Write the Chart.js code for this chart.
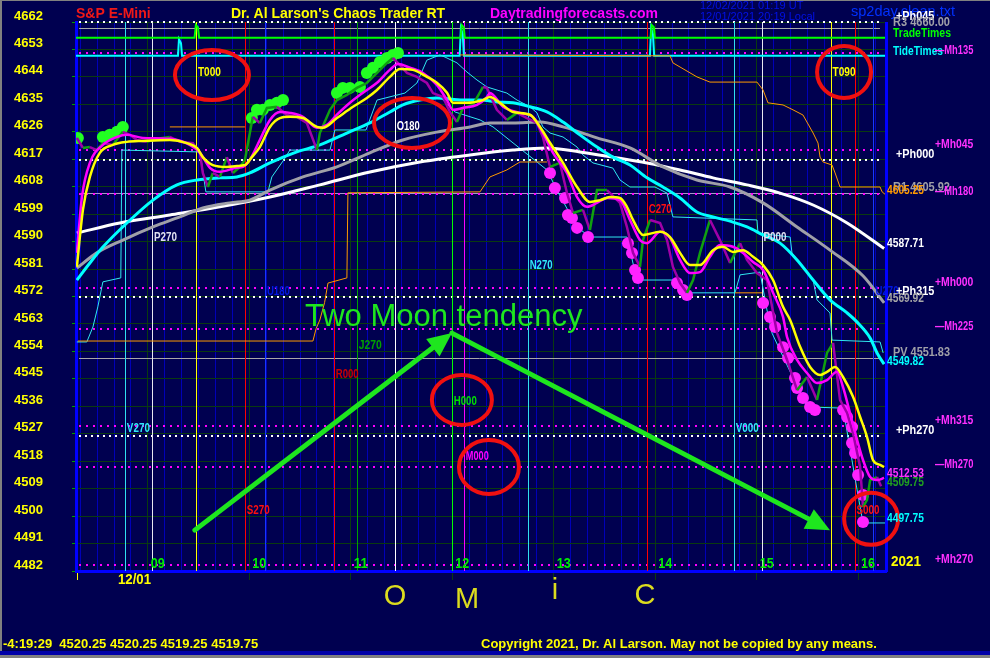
<!DOCTYPE html>
<html>
<head>
<meta charset="utf-8">
<title>S&amp;P E-Mini - Chaos Trader RT</title>
<script src="https://cdn.jsdelivr.net/npm/chart.js@4.4.1/dist/chart.umd.min.js"></script>
<style>
  html, body { margin: 0; padding: 0; background: #000050; }
  #wrap { position: relative; width: 990px; height: 658px; }
</style>
</head>
<body>
<div id="wrap"><canvas id="chaosChart"></canvas></div>
<script>
// x = minutes after midnight (local), y = S&P E-mini price
const xMin = 497.5, xMax = 976.5;
const yMin = 4482, yMax = 4662;

const hours = [9, 10, 11, 12, 13, 14, 15, 16];
const hourLabels = ['09', '10', '11', '12', '13', '14', '15', '16'];

// planetary event lines
const eventNames = ['V270', 'P270', 'T000', 'S270', 'U180', 'R000', 'J270', 'O180', 'H000', 'M000', 'N270', 'C270', 'V000', 'P000', 'T090', 'S000', 'U270'];
const eventTimes = [526.4, 542.4, 568.4, 597.3, 609.2, 649.9, 663.5, 686.0, 719.7, 726.8, 764.6, 835.0, 886.4, 902.9, 943.7, 957.9, 969.1];
const eventLabelPrice = [4528.6, 4591.5, 4645.6, 4501.7, 4573.8, 4546.3, 4555.8, 4627.9, 4537.7, 4519.7, 4582.3, 4600.4, 4528.6, 4591.5, 4645.6, 4501.7, 4573.8];

// horizontal harmonic levels
const levelNames = ['+Ph045', 'R3 4660.00', '\u2014Mh135', '+Mh045', '+Ph000', 'R1 4605.92', '\u2014Mh180', '+Mh000', '+Ph315', '\u2014Mh225', 'PV 4551.83', '+Mh315', '+Ph270', '\u2014Mh270', '+Mh270'];
const levelValues = [4662.0, 4660.00, 4651.8, 4620.0, 4616.8, 4605.92, 4605.6, 4574.8, 4571.8, 4561.3, 4551.83, 4529.5, 4526.3, 4516.1, 4484.0];

// price path (closes)
const priceClose = [[498.0,4624.0],[501.6,4620.7],[505.7,4621.0],[509.8,4620.0],[513.4,4622.3],[519.3,4621.7],[525.2,4626.0],[529.4,4625.0],[533.5,4623.3],[539.4,4622.7],[545.3,4623.7],[553.0,4624.3],[558.9,4622.7],[566.6,4622.3],[570.8,4619.1],[572.5,4612.5],[575.5,4607.9],[578.4,4612.5],[582.6,4611.2],[586.7,4617.7],[590.3,4612.5],[594.4,4614.5],[597.4,4616.8],[600.3,4625.6],[602.1,4630.9],[606.2,4628.9],[610.4,4633.8],[616.3,4634.2],[622.2,4631.5],[628.1,4630.9],[634.0,4628.9],[640.0,4620.0],[641.7,4625.6],[647.7,4633.2],[651.8,4636.4],[657.7,4638.1],[663.6,4640.4],[669.5,4642.0],[675.5,4645.3],[681.4,4648.6],[684.9,4650.2],[689.1,4647.9],[693.2,4645.3],[699.1,4644.0],[705.0,4642.0],[708.6,4638.7],[714.5,4637.4],[718.6,4632.5],[722.8,4629.2],[726.3,4633.8],[732.2,4634.8],[738.2,4640.7],[740.5,4640.4],[746.4,4633.2],[752.3,4629.9],[758.3,4632.2],[764.2,4630.5],[770.1,4628.9],[773.6,4624.3],[777.8,4614.5],[783.7,4615.8],[787.8,4606.0],[791.4,4599.4],[797.3,4600.4],[801.4,4593.8],[805.6,4606.9],[811.5,4606.9],[819.2,4602.7],[823.3,4594.8],[826.9,4586.3],[831.0,4581.7],[832.8,4590.5],[837.0,4597.1],[842.9,4596.1],[847.0,4590.5],[850.5,4581.7],[854.7,4576.4],[858.8,4573.2],[862.4,4577.4],[866.5,4586.3],[872.4,4597.1],[878.3,4590.5],[884.3,4583.0],[890.2,4589.5],[894.3,4584.0],[900.2,4579.7],[906.1,4577.4],[912.1,4560.0],[918.0,4551.2],[923.9,4541.3],[929.8,4545.6],[935.7,4538.1],[941.6,4553.5],[945.2,4556.8],[949.3,4538.1],[953.5,4533.8],[957.0,4527.2],[961.2,4516.1],[962.9,4503.0],[965.3,4505.3],[967.1,4511.8],[971.2,4512.8],[973.6,4509.75]];

// averages
const maYellow = [[498.0,4581.7],[501.6,4600.4],[505.7,4611.2],[511.6,4619.1],[519.3,4621.7],[527.6,4622.7],[537.0,4623.0],[553.0,4623.3],[563.1,4622.3],[569.0,4620.7],[572.5,4617.7],[578.4,4615.1],[586.7,4614.5],[592.6,4614.8],[597.4,4615.1],[601.5,4617.7],[606.2,4621.0],[612.2,4627.6],[618.1,4630.5],[624.0,4630.9],[631.7,4630.5],[640.0,4627.6],[643.5,4627.3],[651.8,4630.5],[661.3,4634.2],[669.5,4637.1],[675.5,4639.7],[683.1,4644.0],[689.1,4646.6],[696.7,4646.3],[705.0,4644.0],[710.9,4642.1],[716.9,4638.8],[720.4,4635.5],[728.7,4635.5],[738.2,4636.4],[742.3,4637.4],[748.2,4635.5],[755.9,4632.5],[766.0,4631.6],[771.9,4627.6],[777.8,4622.4],[785.5,4615.8],[793.8,4607.9],[801.4,4603.0],[807.4,4603.6],[813.3,4604.6],[819.2,4604.3],[823.3,4601.4],[826.9,4597.1],[832.8,4592.2],[842.9,4593.2],[848.8,4591.5],[854.7,4586.3],[860.6,4582.3],[866.5,4582.3],[874.2,4587.2],[880.1,4588.3],[886.0,4586.6],[892.0,4587.2],[897.9,4585.0],[903.8,4582.3],[909.7,4577.4],[915.6,4568.6],[919.8,4564.3],[925.7,4555.5],[931.6,4548.9],[937.5,4546.3],[941.6,4547.3],[946.4,4548.9],[951.1,4545.6],[957.0,4539.1],[961.2,4532.5],[965.3,4525.9],[968.8,4518.4],[973.0,4516.8],[975.4,4516.1]];
const maMagenta = [[498.0,4586.3],[501.0,4604.6],[505.7,4615.8],[513.4,4621.7],[521.7,4624.3],[527.6,4625.0],[537.0,4624.0],[553.0,4623.7],[564.8,4621.7],[570.8,4619.1],[576.7,4614.2],[582.6,4612.9],[592.6,4614.2],[596.2,4614.5],[600.3,4616.8],[606.2,4623.3],[612.2,4629.9],[618.1,4632.5],[624.0,4632.2],[631.7,4630.9],[640.0,4627.3],[645.9,4628.3],[651.8,4631.6],[659.5,4635.5],[667.2,4638.8],[675.5,4642.1],[683.1,4646.3],[687.9,4648.2],[695.0,4647.0],[702.7,4645.3],[710.9,4641.4],[716.9,4636.4],[720.4,4633.2],[726.3,4633.8],[734.6,4634.8],[740.5,4637.4],[742.3,4638.7],[750.0,4634.2],[760.0,4632.2],[767.7,4630.9],[773.6,4625.6],[779.6,4619.1],[787.8,4612.5],[793.8,4604.6],[799.7,4601.4],[805.6,4602.7],[811.5,4604.3],[819.2,4603.6],[825.1,4597.1],[831.0,4590.5],[835.2,4589.5],[842.9,4593.2],[848.8,4591.2],[854.7,4584.0],[860.6,4579.7],[866.5,4580.0],[872.4,4585.0],[878.3,4588.9],[886.0,4588.3],[892.0,4586.3],[897.9,4583.3],[903.8,4580.7],[909.7,4573.2],[915.6,4565.3],[918.0,4558.7],[923.9,4551.2],[929.8,4546.9],[935.7,4543.6],[941.6,4544.6],[947.5,4547.3],[951.1,4542.3],[955.2,4533.8],[959.4,4525.0],[962.9,4518.4],[967.1,4512.8],[971.2,4511.8],[975.4,4512.53]];
const maCyan = [[498.0,4577.4],[505.7,4583.0],[513.4,4588.2],[527.6,4596.1],[543.0,4603.6],[557.2,4608.6],[569.0,4610.2],[582.6,4610.9],[592.6,4611.2],[600.3,4612.5],[612.2,4615.8],[628.1,4619.4],[641.7,4621.7],[657.7,4625.6],[671.3,4628.9],[683.1,4632.5],[690.8,4634.8],[700.9,4636.4],[710.9,4637.1],[726.3,4636.4],[736.4,4636.4],[746.4,4635.8],[755.9,4635.5],[766.0,4634.2],[776.0,4632.5],[785.5,4629.2],[795.5,4625.0],[805.6,4621.0],[815.0,4617.7],[825.1,4615.1],[835.2,4610.9],[844.6,4607.9],[854.7,4604.3],[864.7,4599.7],[874.2,4598.1],[886.0,4596.4],[894.3,4594.8],[903.8,4592.2],[913.8,4589.5],[923.9,4584.0],[933.4,4577.4],[943.4,4570.9],[953.5,4566.6],[959.4,4563.6],[967.1,4558.4],[971.2,4553.5],[975.4,4549.82]];
const maGray = [[498.0,4581.3],[509.8,4586.3],[525.2,4590.5],[543.0,4594.8],[558.9,4598.1],[572.5,4601.0],[588.5,4602.7],[600.3,4603.6],[612.2,4606.9],[631.7,4611.2],[651.8,4614.5],[671.3,4619.1],[690.8,4623.3],[710.9,4625.9],[730.5,4627.6],[742.3,4628.9],[755.9,4628.9],[771.9,4629.2],[785.5,4627.6],[805.6,4624.0],[825.1,4620.7],[844.6,4614.5],[864.7,4610.2],[884.3,4607.9],[903.8,4602.7],[923.9,4594.8],[943.4,4587.2],[963.0,4578.7],[975.4,4569.92]];
const maWhite = [[498.0,4592.8],[523.4,4596.1],[553.0,4598.7],[582.6,4601.4],[612.2,4604.6],[641.7,4608.6],[671.3,4612.8],[700.9,4616.1],[730.5,4618.4],[755.9,4620.0],[776.0,4620.7],[795.5,4619.4],[815.0,4617.7],[835.2,4615.8],[854.7,4613.5],[874.2,4610.9],[894.3,4608.6],[913.8,4605.9],[933.4,4602.0],[953.5,4596.1],[975.4,4587.71]];

// trailing stops
const trailCyanA = [[498.0,4557.1],[503.9,4557.1],[507.5,4562.0],[510.4,4568.6],[513.4,4576.8],[524.0,4578.1],[524.6,4620.0],[570.8,4619.4],[574.3,4606.3],[611.0,4606.3],[613.3,4611.2],[620.4,4616.8],[624.0,4620.0],[647.7,4620.0],[650.6,4626.6],[669.0,4626.6],[675.5,4636.4],[692.0,4638.7],[699.1,4642.0],[705.0,4649.5],[712.7,4651.2],[715.7,4650.5],[722.8,4648.6],[728.7,4645.6],[734.6,4643.0],[740.5,4640.7],[752.3,4638.7],[758.3,4636.4],[766.0,4634.2],[770.1,4632.2],[773.6,4627.6],[777.8,4625.6],[785.5,4624.3],[793.8,4621.0],[797.3,4618.4],[803.2,4615.8],[815.0,4614.1],[819.2,4610.2],[825.1,4607.9],[839.9,4607.9],[847.0,4605.9],[850.5,4598.1],[900.2,4597.1],[900.8,4592.8],[919.8,4591.5],[920.9,4586.3],[933.4,4577.4],[935.7,4570.9],[943.4,4566.6],[944.6,4557.7],[973.0,4557.1],[974.8,4553.5]];
const trailCyanB = [[712.7,4637.4],[721.6,4632.5],[736.4,4629.9],[744.1,4627.6],[776.0,4613.5],[781.9,4606.9],[793.8,4594.8],[801.4,4591.5],[823.3,4591.5],[829.2,4577.4],[852.9,4577.4],[858.8,4573.2],[887.2,4573.2],[890.2,4579.1],[902.0,4580.0],[906.1,4567.6],[909.1,4560.0],[925.7,4540.4],[929.8,4535.8],[951.1,4535.4],[959.4,4508.6],[962.9,4497.75],[976.5,4497.75]];
const orangeStop = [[498.6,4557.4],[637.6,4557.4],[639.5,4561.5],[641.7,4564.3],[644.5,4570.0],[646.5,4576.4],[657.7,4578.1],[658.3,4606.0],[736.4,4606.3],[742.3,4611.2],[752.3,4613.5],[760.0,4616.1],[776.0,4616.1],[800.0,null],[887.2,4573.2],[903.2,4573.2]];
const orangeResist = [[553.0,4627.6],[597.4,4627.6],[660.0,null],[724.5,4651.2],[848.8,4650.9],[850.5,4648.6],[864.7,4644.0],[872.4,4642.3],[900.2,4642.3],[903.8,4639.7],[906.7,4635.5],[915.6,4634.8],[921.5,4633.2],[927.4,4631.5],[933.4,4625.6],[936.3,4622.3],[937.5,4617.7],[939.3,4616.1],[944.6,4615.1],[946.4,4612.5],[949.3,4607.9],[973.0,4607.9],[974.2,4606.3],[976.5,4605.25]];

// timing rows with pulses
const tradeTimes = [[497.5,4656.8],[567.6,4656.8],[568.4,4661.0],[569.6,4660.3],[570.3,4656.8],[725.0,4656.8],[725.6,4661.0],[726.8,4660.3],[727.4,4656.8],[837.4,4656.8],[838.0,4661.0],[839.2,4660.3],[839.8,4656.8],[976.5,4656.8]];
const tideTimes = [[497.5,4650.9],[557.8,4650.9],[558.4,4656.4],[559.6,4655.0],[560.2,4650.9],[724.4,4650.9],[725.1,4660.0],[726.2,4658.0],[726.9,4650.9],[836.9,4650.9],[837.6,4660.0],[838.7,4658.0],[839.4,4650.9],[976.5,4650.9]];

// turning-point dots
const upDots = [[498.6,4624.0],[513.4,4624.3],[517.5,4625.0],[521.7,4626.0],[525.2,4627.6],[601.5,4630.5],[604.5,4633.2],[608.0,4633.2],[612.2,4634.8],[616.3,4635.5],[619.9,4636.4],[651.8,4638.7],[655.3,4640.4],[659.5,4640.4],[665.4,4640.7],[669.5,4645.3],[673.1,4647.0],[677.2,4648.9],[681.4,4650.2],[684.9,4651.2],[687.9,4651.8]];
const downDots = [[777.8,4612.5],[780.7,4607.6],[786.7,4604.3],[788.4,4598.7],[790.8,4597.7],[793.8,4594.5],[800.3,4591.5],[823.9,4589.5],[826.3,4586.3],[828.1,4580.7],[829.8,4578.1],[852.9,4576.4],[856.5,4574.1],[858.8,4572.5],[903.8,4569.9],[907.9,4565.3],[910.9,4562.0],[915.6,4555.4],[918.6,4551.8],[922.7,4545.3],[923.9,4542.0],[927.4,4538.7],[931.6,4535.8],[934.5,4534.8],[951.1,4534.8],[953.5,4532.5],[956.4,4529.2],[956.4,4524.0],[958.2,4520.7],[960.0,4513.5],[962.9,4506.9],[962.9,4498.1]];

// annotations (in chart units)
const circleTimes = [577.9, 696.2, 951.7, 725.7, 741.7, 967.7];
const circlePrices = [4644.6, 4628.9, 4645.6, 4538.1, 4516.1, 4499.1];
const arrowFrom = [[567.8, 4495.4], [719.8, 4560.0]];
const arrowTo = [[719.8, 4560.0], [943.4, 4495.4]];
const noteText = 'Two Moon tendency';
const notePos = [632.9, 4562.3];

// ---- styling ----
const circleSize = [[37, 25], [38, 25], [27, 26], [30, 25], [30, 27], [27, 26]];
const planetLine = { V: '#30e0f0', P: '#e8e8f0', T: '#ffff00', S: '#ff0000', U: '#1838ff', R: '#ff0000', J: '#00a000', O: '#ffffff', H: '#00ff00', M: '#ff00ff', N: '#30e0f0', C: '#ff0000' };
const planetText = { V: '#30e8f8', P: '#e0e0f0', T: '#ffff00', S: '#ff1010', U: '#0018e0', R: '#c80000', J: '#00a000', O: '#ffffff', H: '#00e000', M: '#ff00ff', N: '#30e8f8', C: '#ff1010' };

function levelStyle(name) {
  if (name.indexOf('Ph') >= 0) return { color: '#ffffff', dash: [2, 4], width: 2, lx: 896, text: '#ffffff' };
  if (name.indexOf('Mh') >= 0) return { color: '#ff00ff', dash: [2, 5], width: 2, lx: 935, text: '#ff30ff' };
  if (name.indexOf('R1') === 0) return { color: '#a898c8', dash: [], width: 1, lx: 893, text: '#a0a0a8' };
  return { color: '#a8a8a8', dash: [], width: 1, lx: 893, text: '#a0a0a8' };
}

function pts(list) { return list.map(p => ({ x: p[0], y: p[1] })); }
function lineSet(label, list, color, width, order, extra) {
  return Object.assign({
    label: label, data: pts(list), borderColor: color, borderWidth: width,
    pointRadius: 0, tension: 0, fill: false, order: order, spanGaps: false
  }, extra || {});
}
const smooth = { cubicInterpolationMode: 'monotone' };

const FONT = 'Arial, "Liberation Sans", sans-serif';
function txt(c, s, x, y, color, font, maxW) {
  c.font = font; c.fillStyle = color;
  if (maxW) c.fillText(s, x, y, maxW); else c.fillText(s, x, y);
}

const chaosPlugin = {
  id: 'chaos',
  beforeDraw(chart) {
    const c = chart.ctx;
    c.save();
    c.fillStyle = '#000050';
    c.fillRect(0, 0, chart.width, chart.height);
    c.fillStyle = '#808080';
    c.fillRect(0, 0, 2, chart.height);
    c.fillRect(0, 0, chart.width, 1);
    c.fillStyle = '#0000a8';
    c.fillRect(0, 651, chart.width, 4);
    c.fillStyle = '#808080';
    c.fillRect(0, 655, chart.width, 3);
    c.restore();
  },
  beforeDatasetsDraw(chart) {
    const { ctx: c, chartArea: a, scales: { x, y } } = chart;
    c.save();
    levelValues.forEach((v, i) => {
      const st = levelStyle(levelNames[i]);
      const py = Math.round(y.getPixelForValue(v)) + (st.width === 1 ? 0.5 : 0);
      c.strokeStyle = st.color; c.lineWidth = st.width; c.setLineDash(st.dash);
      c.beginPath(); c.moveTo(a.left + 3, py); c.lineTo(a.right - 6, py); c.stroke();
    });
    c.setLineDash([]);
    eventTimes.forEach((t, i) => {
      const px = Math.round(x.getPixelForValue(t)) + 0.5;
      c.strokeStyle = planetLine[eventNames[i][0]]; c.lineWidth = 1;
      c.beginPath(); c.moveTo(px, a.top); c.lineTo(px, a.bottom); c.stroke();
    });
    c.restore();
  },
  afterDatasetsDraw(chart) {
    const { ctx: c, chartArea: a, scales: { x, y } } = chart;
    const X = v => x.getPixelForValue(v), Y = v => y.getPixelForValue(v);
    c.save();
    c.fillStyle = '#0000ff';
    c.fillRect(Math.round(a.right) - 1, a.top, 3, a.bottom - a.top + 1);
    c.textBaseline = 'middle';
    c.textAlign = 'left';
    hours.forEach((h, i) => txt(c, hourLabels[i], X(h * 60) + 3, a.bottom - 7, '#00ee00', 'bold 14px ' + FONT, 14));
    eventTimes.forEach((t, i) => {
      const k = eventNames[i][0];
      txt(c, eventNames[i], X(t) + 2, Y(eventLabelPrice[i]), planetText[k], 'bold 13px ' + FONT, 23);
    });
    // red circles
    c.strokeStyle = '#f01010'; c.lineWidth = 4;
    circleTimes.forEach((t, i) => {
      c.beginPath();
      c.ellipse(X(t), Y(circlePrices[i]), circleSize[i][0], circleSize[i][1], 0, 0, Math.PI * 2);
      c.stroke();
    });
    // arrows
    c.strokeStyle = '#1ee61e'; c.fillStyle = '#1ee61e'; c.lineWidth = 5; c.lineCap = 'round';
    arrowFrom.forEach((f, i) => {
      const x0 = X(f[0]), y0 = Y(f[1]), x1 = X(arrowTo[i][0]), y1 = Y(arrowTo[i][1]);
      const ang = Math.atan2(y1 - y0, x1 - x0), len = 24, half = 11;
      const bx = x1 - Math.cos(ang) * len, by = y1 - Math.sin(ang) * len;
      c.beginPath(); c.moveTo(x0, y0); c.lineTo(bx + Math.cos(ang) * 4, by + Math.sin(ang) * 4); c.stroke();
      c.beginPath();
      c.moveTo(x1, y1);
      c.lineTo(bx + Math.sin(ang) * half, by - Math.cos(ang) * half);
      c.lineTo(bx - Math.sin(ang) * half, by + Math.cos(ang) * half);
      c.closePath(); c.fill();
    });
    c.textBaseline = 'alphabetic';
    txt(c, noteText, X(notePos[0]), Y(notePos[1]), '#1ee61e', '31px ' + FONT, 282);
    c.restore();
  },
  afterDraw(chart) {
    const { ctx: c, chartArea: a, scales: { y } } = chart;
    const Y = v => y.getPixelForValue(v);
    c.save();
    c.textBaseline = 'middle'; c.textAlign = 'left';
    // header
    txt(c, '12/02/2021 01:19 UT', 700, 6, '#0010e8', '11px ' + FONT);
    txt(c, '12/01/2021 20:19 Local', 700, 17, '#0010e8', '11px ' + FONT);
    txt(c, 'sp2day.clean.txt', 851, 12, '#0030ff', '15px ' + FONT, 104);
    txt(c, 'S&P E-Mini', 76, 14, '#f01818', 'bold 14px ' + FONT, 76);
    txt(c, "Dr. Al Larson's Chaos Trader RT", 231, 14, '#ffff00', 'bold 14px ' + FONT, 216);
    txt(c, 'Daytradingforecasts.com', 490, 14, '#ff00ff', 'bold 14px ' + FONT, 176);
    // row labels
    txt(c, 'TradeTimes', 893, Y(tradeTimes[0][1]) - 4, '#00ff00', 'bold 12px ' + FONT, 58);
    txt(c, 'TideTimes', 893, Y(tideTimes[0][1]) - 4, '#00ffff', 'bold 12px ' + FONT, 50);
    // level labels
    levelNames.forEach((n, i) => {
      const st = levelStyle(n);
      const off = n[0] === '+' ? -5 : (n[0] === '\u2014' ? -2 : -5);
      const w = n.length * (st.lx === 893 ? 5.7 : 6.4);
      txt(c, n, st.lx, Y(levelValues[i]) + off, st.text, 'bold 12px ' + FONT, w);
    });
    // end-of-series values
    const ends = [[orangeResist, '#ff9900', -4], [maWhite, '#ffffff', -5], [maGray, '#a8a8a8', -4], [maCyan, '#00ffff', -2],
                  [maMagenta, '#ff30ff', -4], [priceClose, '#20a020', -4], [trailCyanB, '#00ffff', -4]];
    ends.forEach(e => {
      const last = e[0][e[0].length - 1][1];
      txt(c, last.toFixed(2), 887, Y(last) + e[2], e[1], 'bold 12px ' + FONT, 37);
    });
    txt(c, '2021', 891, 562, '#ffff00', 'bold 15px ' + FONT, 30);
    // date marker
    c.strokeStyle = '#ffff00'; c.lineWidth = 1;
    c.beginPath(); c.moveTo(77.5, a.bottom + 2); c.lineTo(77.5, a.bottom + 9); c.stroke();
    txt(c, '12/01', 118, 580, '#ffff00', 'bold 14px ' + FONT, 33);
    // OMiC
    c.textBaseline = 'alphabetic'; c.textAlign = 'center';
    txt(c, 'O', 395, 605, '#dcdc1e', '29px ' + FONT);
    txt(c, 'M', 467, 608, '#dcdc1e', '29px ' + FONT);
    txt(c, 'i', 555, 599, '#dcdc1e', '29px ' + FONT);
    txt(c, 'C', 645, 604, '#dcdc1e', '29px ' + FONT);
    c.textAlign = 'left'; c.textBaseline = 'middle';
    txt(c, '-4:19:29  4520.25 4520.25 4519.25 4519.75', 3, 644, '#ffff00', 'bold 13px ' + FONT, 279);
    txt(c, 'Copyright 2021, Dr. Al Larson. May not be copied by any means.', 481, 644, '#ffff00', 'bold 13px ' + FONT, 437);
    c.restore();
  }
};

const datasets = [
  lineSet('Fast MA', maYellow, '#ffff00', 2.5, 1, smooth),
  lineSet('Trigger MA', maMagenta, '#ff00ff', 2.5, 2, smooth),
  lineSet('S&P E-Mini', priceClose, '#00a000', 2.5, 3, {
    segment: { borderColor: ctx => ctx.p1.parsed.y < ctx.p0.parsed.y ? '#a000a8' : '#10a010' }
  }),
  lineSet('Up turns', upDots, '#22ff22', 0, 4, { showLine: false, pointRadius: 6, pointBackgroundColor: '#22ff22', pointBorderWidth: 0 }),
  lineSet('Down turns', downDots, '#ff22ff', 0, 5, { showLine: false, pointRadius: 6, pointBackgroundColor: '#ff22ff', pointBorderWidth: 0 }),
  lineSet('Medium MA', maCyan, '#00ffff', 3, 6, smooth),
  lineSet('Slow MA', maGray, '#a0a0a8', 3, 7, smooth),
  lineSet('Long MA', maWhite, '#ffffff', 3, 8, smooth),
  lineSet('Stop high', orangeResist, '#ff9900', 1, 9),
  lineSet('Stop low', orangeStop, '#ff9900', 1, 9),
  lineSet('Trail A', trailCyanA, '#30e8f0', 1, 10),
  lineSet('Trail B', trailCyanB, '#30e8f0', 1, 10),
  lineSet('TradeTimes', tradeTimes, '#00ff00', 2, 11),
  lineSet('TideTimes', tideTimes, '#00ffff', 2, 12)
];

new Chart(document.getElementById('chaosChart'), {
  type: 'line',
  data: { datasets: datasets },
  options: {
    responsive: true,
    maintainAspectRatio: false,
    animation: false,
    layout: { padding: { left: 14, top: 22, right: 104, bottom: 87 } },
    plugins: { legend: { display: false }, tooltip: { enabled: false } },
    scales: {
      x: {
        type: 'linear', min: xMin, max: xMax,
        afterFit: s => { s.height = 0; },
        ticks: { display: false, stepSize: 10, includeBounds: false },
        grid: {
          color: ctx => (ctx.tick && ctx.tick.value % 60 === 0) ? '#0a3a10' : '#0000b8',
          tickColor: ctx => (ctx.tick && ctx.tick.value % 60 === 0) ? '#0a3a10' : 'rgba(0,0,0,0)',
          tickLength: 9, lineWidth: 1
        },
        border: { color: '#0000ff', width: 3 }
      },
      y: {
        min: yMin, max: yMax,
        afterFit: s => { s.width = 62; },
        ticks: {
          stepSize: 9, crossAlign: 'far', labelOffset: -6, color: '#ffff00',
          font: { family: FONT, size: 13, weight: 'bold' },
          callback: v => String(v)
        },
        grid: { color: '#0a3a10', tickColor: '#00a000', tickLength: 4 },
        border: { color: '#0000ff', width: 3 }
      }
    }
  },
  plugins: [chaosPlugin]
});
</script>
</body>
</html>
